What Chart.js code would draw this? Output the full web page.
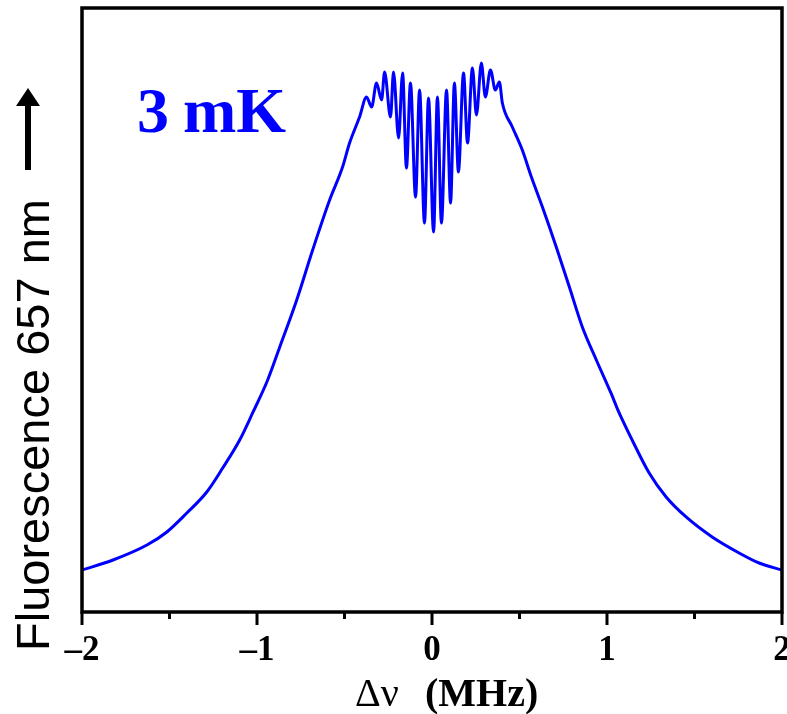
<!DOCTYPE html>
<html>
<head>
<meta charset="utf-8">
<script src="https://cdn.jsdelivr.net/npm/chart.js@4/dist/chart.umd.min.js"></script>
<style>
  html, body { margin: 0; padding: 0; background: #fff; }
  #wrap { width: 787px; height: 714px; position: relative; }
</style>
</head>
<body>
<div id="wrap"><canvas id="fluoChart"></canvas></div>
<script>
// Detuning (MHz) and fluorescence signal (arb. units, 0..100 of the frame)
const detuning = [
  -2.0, -1.823, -1.629, -1.515, -1.401, -1.287, -1.196, -1.099, -1.025, -0.939,
  -0.870, -0.773, -0.682, -0.585, -0.511, -0.471, -0.414, -0.374, -0.345, -0.317,
  -0.288, -0.271, -0.237, -0.220, -0.191, -0.168, -0.146, -0.123, -0.094, -0.071,
  -0.043, -0.020, 0.009, 0.031, 0.054, 0.083, 0.106, 0.128, 0.151, 0.180,
  0.203, 0.231, 0.254, 0.282, 0.305, 0.334, 0.362, 0.385, 0.402, 0.459,
  0.516, 0.568, 0.631, 0.710, 0.785, 0.859, 0.939, 1.025, 1.060, 1.145,
  1.241, 1.338, 1.452, 1.601, 1.755, 1.869, 2.0
];
const fluorescence = [
  6.95, 8.61, 11.09, 13.25, 16.39, 19.87, 23.84, 28.48, 32.95, 38.41,
  43.87, 51.66, 59.93, 68.21, 73.68, 77.65, 81.95, 85.26, 83.61, 87.58,
  84.77, 89.40, 81.95, 89.40, 78.48, 89.24, 73.51, 87.58, 68.71, 86.42,
  64.40, 85.10, 62.91, 85.26, 64.40, 86.42, 67.72, 87.58, 72.85, 89.24,
  77.65, 90.07, 82.28, 90.89, 85.26, 89.74, 86.42, 87.75, 84.27, 80.30,
  76.49, 72.02, 67.05, 60.43, 53.81, 47.19, 41.72, 36.10, 33.60, 28.40,
  23.01, 19.04, 15.73, 12.42, 9.77, 8.11, 6.95
];
const majorTicks = [-2, -1, 0, 1, 2];
const minorTicks = [-1.5, -0.5, 0.5, 1.5];

const serif = '"Liberation Serif", "Times New Roman", serif';
const sans = '"Liberation Sans", Arial, sans-serif';

/**
 * Frame, ticks and text annotations
 */
const framePlugin = {
  id: 'frame',
  afterDraw(chart) {
    const { ctx, chartArea: a, scales } = chart;
    const xs = scales.x;
    ctx.save();

    // box
    ctx.strokeStyle = '#000';
    ctx.lineWidth = 3.5;
    ctx.strokeRect(a.left, a.top, a.right - a.left, a.bottom - a.top);

    // ticks below the axis
    ctx.lineWidth = 3;
    majorTicks.concat(minorTicks).forEach(v => {
      const px = xs.getPixelForValue(v);
      const len = majorTicks.includes(v) ? 13 : 7;
      ctx.beginPath();
      ctx.moveTo(px, a.bottom);
      ctx.lineTo(px, a.bottom + len);
      ctx.stroke();
    });

    // x title
    ctx.fillStyle = '#000';
    ctx.textBaseline = 'alphabetic';
    ctx.textAlign = 'left';
    ctx.font = '40px ' + serif;
    ctx.fillText('\u0394\u03bd', 355, 706);
    ctx.font = 'bold 40px ' + serif;
    ctx.fillText('(MHz)', 425, 706);

    // y title with arrow
    ctx.save();
    ctx.translate(49, 651);
    ctx.rotate(-Math.PI / 2);
    ctx.font = '47px ' + sans;
    ctx.fillText('Fluorescence 657 nm', 0, 0);
    ctx.restore();

    ctx.fillRect(25, 106, 6, 64);
    ctx.beginPath();
    ctx.moveTo(28, 88);
    ctx.lineTo(40, 106);
    ctx.lineTo(16, 106);
    ctx.closePath();
    ctx.fill();

    // temperature tag
    ctx.fillStyle = '#0000ff';
    ctx.font = 'bold 64px ' + serif;
    ctx.fillText('3', 137, 132);
    ctx.fillText('mK', 183, 132);

    ctx.restore();
  }
};

function initChart() {
  new Chart(document.getElementById('fluoChart'), {
    type: 'scatter',
    data: {
      datasets: [{
        data: detuning.map((x, i) => ({ x: x, y: fluorescence[i] })),
        showLine: true,
        borderColor: '#0000ff',
        borderWidth: 3,
        pointRadius: 0,
        cubicInterpolationMode: 'monotone'
      }]
    },
    options: {
      responsive: true,
      maintainAspectRatio: false,
      animation: false,
      layout: { padding: { left: 82, right: 5, top: 8, bottom: 0 } },
      plugins: { legend: { display: false }, tooltip: { enabled: false } },
      scales: {
        x: {
          type: 'linear',
          min: -2,
          max: 2,
          grid: { display: false, drawTicks: false },
          border: { display: false },
          ticks: {
            stepSize: 1,
            padding: 18,
            color: '#000',
            font: { family: serif, size: 35, weight: 'bold' },
            callback: v => (v < 0 ? '\u2013' + Math.abs(v) : String(v))
          },
          afterFit(scale) {
            scale.height = 102;
            scale.paddingLeft = 0;
            scale.paddingRight = 0;
          }
        },
        y: { display: false, min: 0, max: 100 }
      }
    },
    plugins: [framePlugin]
  });
}

initChart();
</script>
</body>
</html>
